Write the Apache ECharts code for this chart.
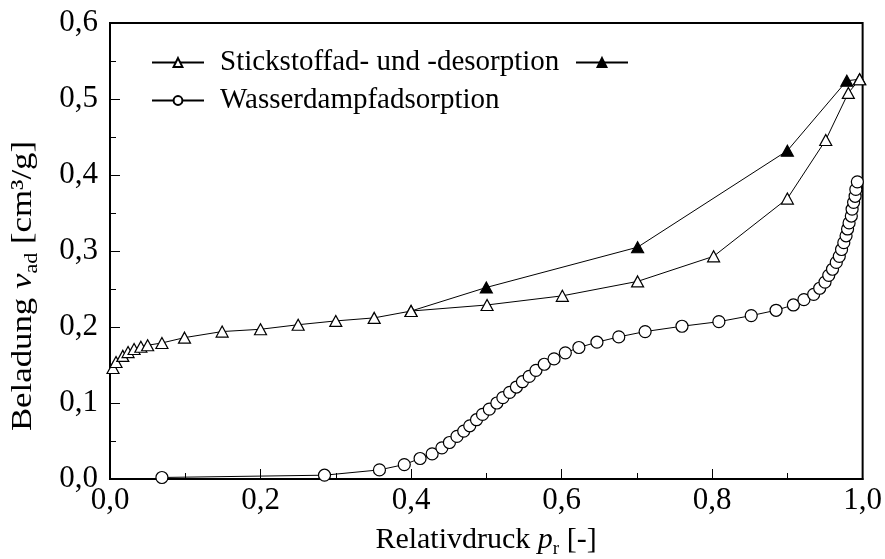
<!DOCTYPE html>
<html>
<head>
<meta charset="utf-8">
<script src="https://cdn.jsdelivr.net/npm/echarts@6/dist/echarts.min.js"></script>
<style>
  html, body { margin: 0; padding: 0; background: #fff; }
  #chart { width: 885px; height: 559px; }
</style>
</head>
<body>
<div id="chart"></div>
<script>
// Stickstoff-Adsorption (offene Dreiecke): [Relativdruck, Beladung]
const n2Adsorption = [
  [0.004, 0.146], [0.008, 0.154], [0.017, 0.162], [0.024, 0.167], [0.032, 0.171],
  [0.041, 0.174], [0.050, 0.176], [0.069, 0.179], [0.099, 0.186], [0.149, 0.194],
  [0.200, 0.197], [0.250, 0.203], [0.300, 0.208], [0.351, 0.212], [0.400, 0.221],
  [0.501, 0.229], [0.601, 0.241], [0.701, 0.260], [0.802, 0.293], [0.900, 0.369],
  [0.951, 0.446], [0.981, 0.508], [0.996, 0.526]
];

// Stickstoff-Desorption (gefüllte Dreiecke), vom Sättigungspunkt zurück
const n2Desorption = [
  [0.996, 0.526], [0.979, 0.524], [0.900, 0.432], [0.701, 0.305], [0.500, 0.252], [0.400, 0.221]
];

// Wasserdampfadsorption (Kreise)
const h2oAdsorption = [
  [0.069, 0.002], [0.285, 0.005], [0.358, 0.012], [0.391, 0.019], [0.412, 0.027],
  [0.428, 0.033], [0.441, 0.041], [0.451, 0.048], [0.461, 0.056], [0.470, 0.063],
  [0.478, 0.070], [0.487, 0.078], [0.495, 0.085], [0.504, 0.092], [0.514, 0.100],
  [0.522, 0.107], [0.531, 0.114], [0.540, 0.121], [0.548, 0.128], [0.557, 0.135],
  [0.566, 0.143], [0.577, 0.151], [0.590, 0.158], [0.605, 0.166], [0.623, 0.173],
  [0.647, 0.180], [0.676, 0.187], [0.711, 0.194], [0.760, 0.201], [0.809, 0.207],
  [0.852, 0.215], [0.885, 0.222], [0.908, 0.229], [0.922, 0.236], [0.935, 0.243],
  [0.943, 0.251], [0.950, 0.259], [0.955, 0.268], [0.960, 0.276], [0.965, 0.285],
  [0.969, 0.293], [0.972, 0.302], [0.975, 0.311], [0.978, 0.320], [0.980, 0.329],
  [0.982, 0.337], [0.985, 0.346], [0.986, 0.355], [0.988, 0.364], [0.990, 0.372],
  [0.991, 0.381], [0.993, 0.391]
];

const xTickLabels = ['0,0', '0,2', '0,4', '0,6', '0,8', '1,0'];
const yTickLabels = ['0,0', '0,1', '0,2', '0,3', '0,4', '0,5', '0,6'];

const legendAds = 'Stickstoffad- und -desorption';
const legendDes = 'Desorption';
const legendH2O = 'Wasserdampfadsorption';

const FONT = '"Liberation Serif", "Times New Roman", serif';
const FS_TICK = 31;
const FS_LEGEND = 29;
const FS_XTITLE = 30;
const FS_YTITLE = 30;

const chart = echarts.init(document.getElementById('chart'), null, { renderer: 'canvas' });

const tickFmt = (labels, step) => (v) => {
  const i = Math.round(v / step);
  return labels[i] !== undefined ? labels[i] : '';
};

const baseSeries = {
  type: 'line',
  animation: false,
  silent: true,
  lineStyle: { color: '#000', width: 1 },
  itemStyle: { color: '#fff', borderColor: '#000', borderWidth: 1.2 },
  emphasis: { disabled: true }
};

const titleRich = (fs) => {
  const lh = Math.round(fs * 1.25);
  return {
    n: { fontFamily: FONT, fontSize: fs, color: '#000', lineHeight: lh, verticalAlign: 'middle' },
    i: { fontFamily: FONT, fontSize: fs, fontStyle: 'italic', color: '#000', lineHeight: lh, verticalAlign: 'middle' },
    s: { fontFamily: FONT, fontSize: Math.round(fs * 0.64), color: '#000', lineHeight: lh, verticalAlign: 'bottom' }
  };
};

const option = {
  animation: false,
  backgroundColor: '#fff',
  textStyle: { fontFamily: FONT, color: '#000' },
  grid: {
    left: 110, right: 19, top: 23, bottom: 80, containLabel: false,
    show: true, borderColor: '#000', borderWidth: 2, backgroundColor: 'transparent'
  },
  xAxis: {
    type: 'value', min: 0, max: 1, interval: 0.2,
    axisLine: { show: true, onZero: false, lineStyle: { color: '#000', width: 2 } },
    axisTick: { show: true, inside: true, length: 10, lineStyle: { color: '#000', width: 1 } },
    minorTick: { show: true, splitNumber: 2, length: 6, lineStyle: { color: '#000', width: 1 } },
    splitLine: { show: false },
    axisLabel: { fontFamily: FONT, fontSize: FS_TICK, color: '#000', margin: 6, formatter: tickFmt(xTickLabels, 0.2) }
  },
  yAxis: {
    type: 'value', min: 0, max: 0.6, interval: 0.1,
    axisLine: { show: true, onZero: false, lineStyle: { color: '#000', width: 2 } },
    axisTick: { show: true, inside: true, length: 10, lineStyle: { color: '#000', width: 1 } },
    minorTick: { show: true, splitNumber: 2, length: 6, lineStyle: { color: '#000', width: 1 } },
    splitLine: { show: false },
    axisLabel: { fontFamily: FONT, fontSize: FS_TICK, color: '#000', margin: 12, formatter: tickFmt(yTickLabels, 0.1) }
  },
  legend: [{
    left: 151, top: 48, padding: 0,
    itemWidth: 52, itemHeight: 11,
    data: [legendAds],
    textStyle: { fontFamily: FONT, fontSize: FS_LEGEND, color: '#000', padding: [0, 0, 0, 11] },
    selectedMode: false
  }, {
    left: 575, top: 57, padding: 0,
    itemWidth: 52, itemHeight: 11,
    data: [legendDes],
    formatter: () => '',
    textStyle: { fontFamily: FONT, fontSize: FS_LEGEND, color: '#000' },
    selectedMode: false
  }, {
    left: 151, top: 86, padding: 0,
    itemWidth: 52, itemHeight: 11,
    data: [legendH2O],
    textStyle: { fontFamily: FONT, fontSize: FS_LEGEND, color: '#000', padding: [0, 0, 0, 11] },
    selectedMode: false
  }],
  graphic: [{
    type: 'text',
    x: 486, y: 540,
    style: {
      text: '{n|Relativdruck }{i|p}{s|r}{n| [-]}',
      align: 'center', verticalAlign: 'middle',
      rich: titleRich(FS_XTITLE)
    }
  }, {
    // vertical axis title, drawn slightly elongated along its reading direction
    type: 'text',
    x: 23, y: 286,
    rotation: Math.PI / 2,
    scaleX: 1.16,
    style: {
      text: '{n|Beladung }{i|v}{s|ad}{n| [cm³/g]}',
      align: 'center', verticalAlign: 'middle',
      rich: titleRich(FS_YTITLE)
    }
  }],
  series: [
    Object.assign({}, baseSeries, {
      name: legendDes,
      data: n2Desorption,
      symbol: 'triangle', symbolSize: [12, 11],
      itemStyle: { color: '#000', borderColor: '#000', borderWidth: 1.2 },
      z: 2
    }),
    Object.assign({}, baseSeries, {
      name: legendAds,
      data: n2Adsorption,
      symbol: 'triangle', symbolSize: [12, 11],
      z: 3
    }),
    Object.assign({}, baseSeries, {
      name: legendH2O,
      data: h2oAdsorption,
      symbol: 'circle', symbolSize: 12,
      z: 4
    })
  ]
};

chart.setOption(option);
</script>
</body>
</html>
